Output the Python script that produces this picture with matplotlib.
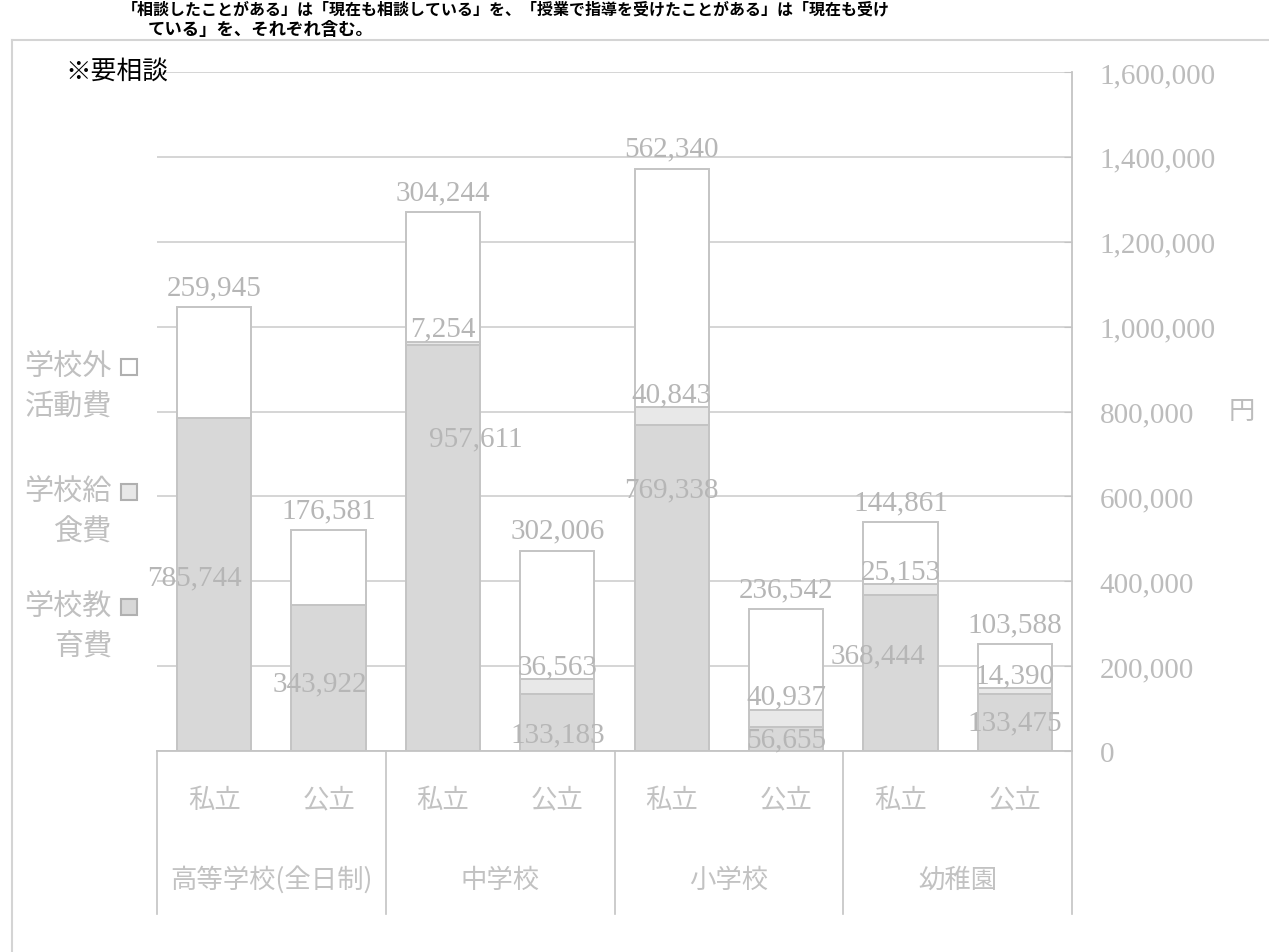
import numpy as np
import matplotlib
matplotlib.use("Agg")
import matplotlib.pyplot as plt
from matplotlib.patches import Rectangle
from matplotlib.lines import Line2D
from matplotlib.ticker import FuncFormatter
import matplotlib.transforms as mtrans

plt.rcParams['font.family'] = ['Noto Sans CJK JP', 'DejaVu Sans']
NUM_FONT = ['Liberation Serif', 'DejaVu Serif']

# 学習費の内訳（円）
groups = ['高等学校(全日制)', '中学校', '小学校', '幼稚園']
sectors = ['私立', '公立', '私立', '公立', '私立', '公立', '私立', '公立']
school_edu = [785744, 343922, 957611, 133183, 769338, 56655, 368444, 133475]
school_lunch = [0, 0, 7254, 36563, 40843, 40937, 25153, 14390]
outside_act = [259945, 176581, 304244, 302006, 562340, 236542, 144861, 103588]
legend_names = [('学校外', '活動費'), ('学校給', '食費'), ('学校教', '育費')]

W, H = 1269, 953
GRID = '#d2d2d2'
EDGE = '#c4c4c4'
TXT = '#b6b6b6'
C_EDU = '#d8d8d8'
C_LUNCH = '#e8e8e8'
C_OUT = 'white'


def fx(px):
    return px / W


def fy(py):
    return 1 - py / H


fig = plt.figure(figsize=(W / 100, H / 100), dpi=100)
ax = fig.add_axes([fx(157), fy(752), fx(1072 - 157), (752 - 73) / H])

x = np.arange(len(sectors))
edu = np.array(school_edu)
lunch = np.array(school_lunch)
out = np.array(outside_act)
bw = 0.65

ax.bar(x, edu, width=bw, color=C_EDU, edgecolor=EDGE, linewidth=1.4, zorder=3)
has_lunch = lunch > 0
ax.bar(x[has_lunch], lunch[has_lunch], bottom=edu[has_lunch], width=bw,
       color=C_LUNCH, edgecolor=EDGE, linewidth=1.4, zorder=3)
ax.bar(x, out, bottom=edu + lunch, width=bw, color=C_OUT, edgecolor=EDGE,
       linewidth=1.4, zorder=3)

# value labels
NUM_SIZE = 21
edu_frac = [0.52, 0.46, 0.77, 0.3, 0.80, 0.5, 0.61, 0.5]
edu_dx = [-20, -9, 33, 0, 0, 0, -22, 0]
for i in x:
    ax.annotate(f'{out[i]:,}', (i, edu[i] + lunch[i] + out[i]),
                xytext=(0, 5), textcoords='offset points', ha='center',
                va='bottom', fontsize=NUM_SIZE, color=TXT, family=NUM_FONT,
                zorder=4)
    if lunch[i] > 0:
        ax.annotate(f'{lunch[i]:,}', (i, edu[i] + lunch[i]),
                    xytext=(0, 0), textcoords='offset points', ha='center',
                    va='bottom', fontsize=NUM_SIZE, color=TXT,
                    family=NUM_FONT, zorder=4)
    ax.annotate(f'{edu[i]:,}', (i, edu[i] * edu_frac[i]),
                xytext=(edu_dx[i] * 0.72, 0), textcoords='offset points',
                ha='center', va='center', fontsize=NUM_SIZE, color=TXT,
                family=NUM_FONT, zorder=4)

ax.set_xlim(-0.5, len(sectors) - 0.5)
ax.set_ylim(0, 1600000)
ax.set_yticks(np.arange(0, 1600001, 200000))
ax.yaxis.set_major_formatter(FuncFormatter(lambda v, p: f'{int(v):,}'))
ax.yaxis.tick_right()
ax.tick_params(axis='y', direction='in', length=6, color=EDGE, pad=20,
               labelsize=NUM_SIZE, labelcolor='#bcbcbc')
for lab in ax.get_yticklabels():
    lab.set_family(NUM_FONT)
ax.set_xticks([])
ax.yaxis.grid(True, color=GRID, linewidth=1.3)
ax.set_axisbelow(True)
for side in ['left', 'top']:
    ax.spines[side].set_visible(False)
for side in ['right', 'bottom']:
    ax.spines[side].set_color(EDGE)
    ax.spines[side].set_linewidth(1.3)

# category table under the bars
trans = mtrans.blended_transform_factory(ax.transData, ax.transAxes)
y_low = (752 - 915) / (752 - 73)
for xb in [-0.5, 1.5, 3.5, 5.5, 7.5]:
    ax.plot([xb, xb], [0, y_low], transform=trans, color=EDGE, lw=1.2,
            clip_on=False)
y_sec = (752 - 800) / (752 - 73)
y_grp = (752 - 880) / (752 - 73)
for i, s in enumerate(sectors):
    ax.text(i, y_sec, s, transform=trans, ha='center', va='center',
            fontsize=19, color='#c2c2c2')
for g, name in enumerate(groups):
    ax.text(2 * g + 0.5, y_grp, name, transform=trans, ha='center',
            va='center', fontsize=19, color='#c2c2c2')

# legend on the left
leg_rows = [368, 493, 608]
leg_fill = [C_OUT, C_LUNCH, C_EDU]
for (l1, l2), yy, fc in zip(legend_names, leg_rows, leg_fill):
    fig.text(fx(112), fy(yy), l1, ha='right', va='center', fontsize=21,
             color='#c0c0c0')
    fig.text(fx(112), fy(yy + 40), l2, ha='right', va='center', fontsize=21,
             color='#c0c0c0')
    fig.patches.append(Rectangle((fx(121), fy(yy + 8)), fx(16), 16 / H,
                                 transform=fig.transFigure, facecolor=fc,
                                 edgecolor='#b0b0b0', linewidth=1.5))

fig.text(fx(1242), fy(412), '円', ha='center', va='center', fontsize=19,
         color='#bcbcbc')

# page text and frame
fig.text(fx(122), fy(9), '「相談したことがある」は「現在も相談している」を、「授業で指導を受けたことがある」は「現在も受け',
         ha='left', va='center', fontsize=11.5, fontweight='bold', color='black')
fig.text(fx(148), fy(30), 'ている」を、それぞれ含む。', ha='left', va='center',
         fontsize=12.5, fontweight='bold', color='black')
fig.text(fx(65), fy(72), '※要相談', ha='left', va='center', fontsize=18.5,
         color='black')
fig.lines.append(Line2D([fx(12), 1], [fy(41), fy(41)], transform=fig.transFigure,
                        color='#d4d4d4', lw=1.5))
fig.lines.append(Line2D([fx(12), fx(12)], [0, fy(41)], transform=fig.transFigure,
                        color='#d4d4d4', lw=1.5))

fig.savefig('out.png', dpi=100)
